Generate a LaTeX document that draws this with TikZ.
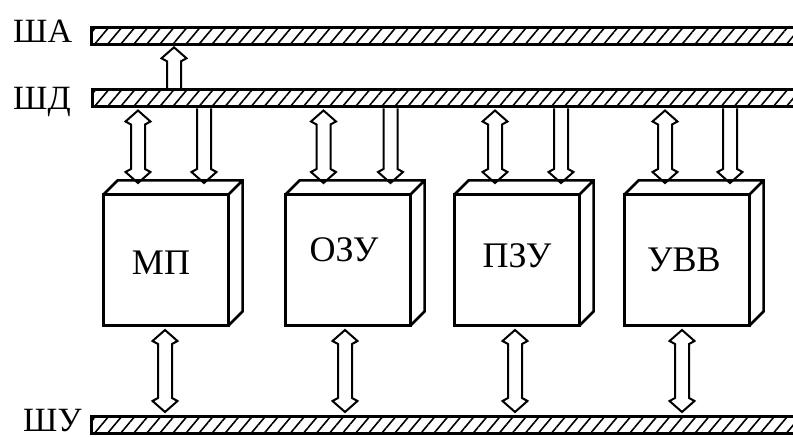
\documentclass[tikz,border=0pt]{standalone}
\usepackage{fontspec}
\setmainfont{Liberation Serif}
\usetikzlibrary{positioning, calc, patterns.meta}

\begin{document}
\begin{tikzpicture}[
  x=1pt, y=1pt,
  every node/.style={font=\fontsize{36}{40}\selectfont},
  bus/.style={rectangle, draw, line width=3pt, anchor=west, inner sep=0pt,
    minimum width=740pt, minimum height=17pt,
    pattern={Lines[angle=50, distance=10pt, line width=1.6pt]}},
  blk/.style={rectangle, draw, line width=3pt, fill=white, outer sep=0pt, inner sep=0pt,
    minimum width=125pt, minimum height=131pt},
  face/.style={line width=2.5pt, line join=miter},
  lbl/.style={anchor=base west, inner sep=0pt, font=\fontsize{34}{40}\selectfont},
  txt/.style={inner sep=0pt},
  thin/.style={txt, font=\fontsize{36}{40}\selectfont},
  bidir/.style={line width=2pt, line join=miter, to path={
    let \p1=(\tikztostart), \p2=(\tikztotarget),
        \n1={14*sign(\y2-\y1)}, \n2={11*sign(\y2-\y1)} in
    ({\x1-7pt},{\y1+(\n1)*1pt}) -- ({\x1-12.5pt},{\y1+(\n2)*1pt}) -- (\x1,\y1)
    -- ({\x1+12.5pt},{\y1+(\n2)*1pt}) -- ({\x1+7pt},{\y1+(\n1)*1pt})
    -- ({\x2+7pt},{\y2-(\n1)*1pt}) -- ({\x2+12.5pt},{\y2-(\n2)*1pt}) -- (\x2,\y2)
    -- ({\x2-12.5pt},{\y2-(\n2)*1pt}) -- ({\x2-7pt},{\y2-(\n1)*1pt}) -- cycle}},
  uni/.style={line width=2pt, line join=miter, to path={
    let \p1=(\tikztostart), \p2=(\tikztotarget),
        \n1={14*sign(\y2-\y1)}, \n2={11*sign(\y2-\y1)} in
    ({\x1-7pt},\y1) -- ({\x2-7pt},{\y2-(\n1)*1pt}) -- ({\x2-12.5pt},{\y2-(\n2)*1pt}) -- (\x2,\y2)
    -- ({\x2+12.5pt},{\y2-(\n2)*1pt}) -- ({\x2+7pt},{\y2-(\n1)*1pt}) -- ({\x1+7pt},\y1)}},
]
\useasboundingbox (0,0) rectangle (793,437);

%% Buses
\node[bus] (sha) at (91,401) {};
\node[bus] (shd) at (91,338.5) {};
\node[bus] (shu) at (90,12) {};

\node[lbl] (sha-l) at (13,394) {ША};
\node[lbl] (shd-l) at (13,327) {ШД};
\node[lbl] (shu-l) at (23,6) {ШУ};

%% Blocks
\node[blk] (mp) at (166,177) {};
\node[blk, right=57pt of mp]  (ozu) {};
\node[blk, right=44pt of ozu] (pzu) {};
\node[blk, right=45pt of pzu] (uvv) {};

\foreach \b in {mp, ozu, pzu, uvv} {
  \draw[face] (\b.north west) -- ++(14,14) -| ([shift={(14,14)}]\b.south east) -- (\b.south east)
              (\b.north east) -- ++(14,14);
}

\node[txt]  (mp-t)  at ([shift={(-5,-2.5)}]mp.center) {МП};
\node[thin] (ozu-t) at ([shift={(-4,10)}]ozu.center)  {ОЗУ};
\node[thin] (pzu-t) at ([shift={(0,4)}]pzu.center)    {ПЗУ};
\node[thin] (uvv-t) at ([shift={(-3,0.5)}]uvv.center) {УВВ};

%% Connection points
\coordinate (mp-a)  at ([shift={(-28,11.5)}]mp.north);
\coordinate (mp-d)  at ([shift={(38,11.5)}]mp.north);
\coordinate (mp-u)  at ([shift={(-1,-4.5)}]mp.south);
\coordinate (ozu-a) at ([shift={(-24.5,11.5)}]ozu.north);
\coordinate (ozu-d) at ([shift={(42.5,11.5)}]ozu.north);
\coordinate (ozu-u) at ([shift={(-3,-4.5)}]ozu.south);
\coordinate (pzu-a) at ([shift={(-22,11.5)}]pzu.north);
\coordinate (pzu-d) at ([shift={(44,11.5)}]pzu.north);
\coordinate (pzu-u) at ([shift={(-2,-4.5)}]pzu.south);
\coordinate (uvv-a) at ([shift={(-22,11.5)}]uvv.north);
\coordinate (uvv-d) at ([shift={(43,11.5)}]uvv.north);
\coordinate (uvv-u) at ([shift={(-5,-4.5)}]uvv.south);
\coordinate (adr)   at (174,0);

%% ШД -> ША
\draw[uni] (shd.north -| adr) to ([yshift=-2pt]sha.south -| adr);

%% ШД <-> blocks
\draw[bidir] (mp-a)  to ([yshift=-2pt]shd.south -| mp-a);
\draw[uni]   (shd.south -| mp-d) to (mp-d);
\draw[bidir] (ozu-a) to ([yshift=-2pt]shd.south -| ozu-a);
\draw[uni]   (shd.south -| ozu-d) to (ozu-d);
\draw[bidir] (pzu-a) to ([yshift=-2pt]shd.south -| pzu-a);
\draw[uni]   (shd.south -| pzu-d) to (pzu-d);
\draw[bidir] (uvv-a) to ([yshift=-2pt]shd.south -| uvv-a);
\draw[uni]   (shd.south -| uvv-d) to (uvv-d);

%% blocks <-> ШУ
\draw[bidir] (mp-u)  to ([yshift=3pt]shu.north -| mp-u);
\draw[bidir] (ozu-u) to ([yshift=3pt]shu.north -| ozu-u);
\draw[bidir] (pzu-u) to ([yshift=3pt]shu.north -| pzu-u);
\draw[bidir] (uvv-u) to ([yshift=3pt]shu.north -| uvv-u);

\end{tikzpicture}
\end{document}
